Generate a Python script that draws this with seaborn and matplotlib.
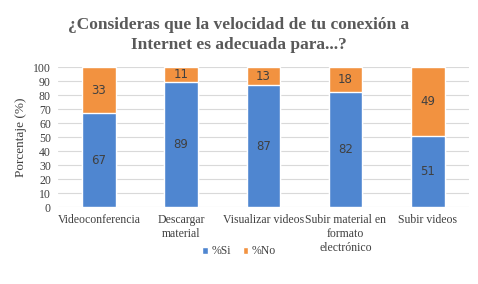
import numpy as np
import pandas as pd
import seaborn as sns
import matplotlib.pyplot as plt

categories = ['Videoconferencia', 'Descargar\nmaterial', 'Visualizar videos',
              'Subir material en\nformato\nelectrónico', 'Subir videos']
si = [67, 89, 87, 82, 51]
no = [33, 11, 13, 18, 49]
yticks = list(range(0, 101, 10))

sns.set_theme(style="white")
plt.rcParams['font.family'] = ['Liberation Serif', 'DejaVu Serif']

c_si = '#4F86D0'
c_no = '#F29240'

df = pd.DataFrame({'cat': categories, 'si': si, 'no': no})
df['total'] = df['si'] + df['no']

fig = plt.figure(figsize=(4.78, 2.84), dpi=100)
ax = fig.add_axes([0.121, 0.271, 0.860, 0.493])

sns.barplot(data=df, x='cat', y='total', color=c_no, width=0.41, ax=ax,
            saturation=1, label='%No', zorder=3)
sns.barplot(data=df, x='cat', y='si', color=c_si, width=0.41, ax=ax,
            saturation=1, label='%Si', zorder=4)

# etiquetas de datos
for i, (s, n) in enumerate(zip(si, no)):
    ax.text(i, s / 2, str(s), ha='center', va='center', fontsize=8.5,
            color='#404040', family='DejaVu Sans', zorder=5)
    ax.text(i, s + n / 2, str(n), ha='center', va='center', fontsize=8.5,
            color='#404040', family='DejaVu Sans', zorder=5)

ax.set_ylim(0, 100)
ax.set_xlim(-0.5, 4.5)
ax.set_yticks(yticks)
ax.yaxis.grid(True, color='#D9D9D9', linewidth=0.8, zorder=0)
for sp in ax.spines.values():
    sp.set_visible(False)
ax.tick_params(axis='both', length=0, labelsize=8.5, labelcolor='#404040', pad=5)
ax.set_xlabel('')
ax.set_ylabel('Porcentaje (%)', fontsize=9.5, color='#404040', labelpad=4)

handles, labels = ax.get_legend_handles_labels()
if ax.get_legend() is not None:
    ax.get_legend().remove()

fig.suptitle('¿Consideras que la velocidad de tu conexión a\nInternet es adecuada para...?',
             x=0.5, y=0.94, fontsize=12.5, fontweight='bold', color='#595959',
             linespacing=1.3)

order = [labels.index('%Si'), labels.index('%No')]
fig.legend([handles[k] for k in order], [labels[k] for k in order],
           loc='center', bbox_to_anchor=(0.5, 0.115), ncol=2, frameon=False,
           fontsize=8.5, handlelength=0.5, handleheight=0.5, handletextpad=0.3,
           columnspacing=1.0, labelcolor='#404040')

fig.savefig('out.png', dpi=100)
